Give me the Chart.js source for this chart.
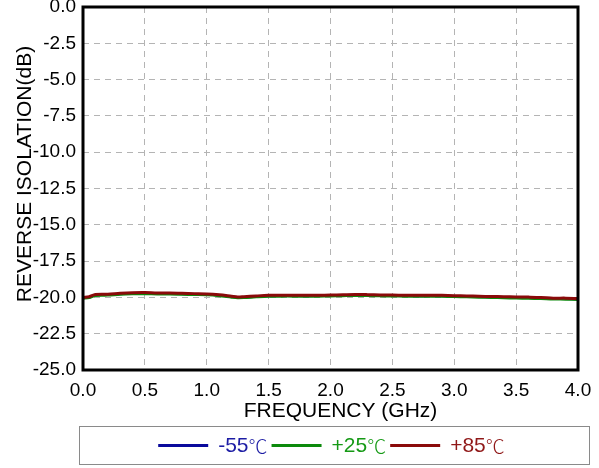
<!DOCTYPE html>
<html>
<head>
<meta charset="utf-8">
<script src="https://cdn.jsdelivr.net/npm/chart.js@4.4.0/dist/chart.umd.min.js"></script>
<style>
html,body{margin:0;padding:0;background:#fff;}
#wrap{width:599px;height:468px;position:relative;}
</style>
</head>
<body>
<div id="wrap"><canvas id="c" width="599" height="468"></canvas></div>
<script>
const freqGHz = [0, 0.05, 0.1, 0.2, 0.3, 0.4, 0.5, 0.6, 0.7, 0.8, 0.9, 1.0, 1.1, 1.2, 1.25, 1.3, 1.4, 1.5, 1.6, 1.7, 1.8, 1.9, 2.0, 2.1, 2.2, 2.3, 2.4, 2.5, 2.6, 2.7, 2.8, 2.9, 3.0, 3.1, 3.2, 3.3, 3.4, 3.5, 3.6, 3.7, 3.8, 3.9, 4.0];
const isoM55 = [-20.04, -19.99, -19.84, -19.82, -19.76, -19.72, -19.71, -19.74, -19.74, -19.76, -19.78, -19.8, -19.86, -19.96, -20.01, -19.99, -19.94, -19.9, -19.89, -19.89, -19.9, -19.89, -19.88, -19.86, -19.84, -19.85, -19.87, -19.88, -19.89, -19.9, -19.89, -19.9, -19.92, -19.94, -19.96, -19.98, -19.99, -20.01, -20.03, -20.05, -20.09, -20.1, -20.12];
const iso25 = [-20.08, -20.03, -19.88, -19.86, -19.8, -19.77, -19.76, -19.78, -19.78, -19.8, -19.82, -19.84, -19.9, -20.0, -20.04, -20.03, -19.98, -19.94, -19.93, -19.93, -19.94, -19.93, -19.92, -19.9, -19.88, -19.89, -19.91, -19.92, -19.93, -19.94, -19.93, -19.94, -19.96, -19.98, -20.0, -20.02, -20.04, -20.06, -20.08, -20.1, -20.13, -20.14, -20.16];
const iso85 = [-20.0, -19.95, -19.8, -19.78, -19.72, -19.68, -19.67, -19.7, -19.7, -19.72, -19.74, -19.76, -19.82, -19.92, -19.97, -19.95, -19.9, -19.86, -19.85, -19.85, -19.86, -19.85, -19.84, -19.82, -19.8, -19.81, -19.83, -19.84, -19.85, -19.86, -19.85, -19.86, -19.88, -19.9, -19.92, -19.94, -19.95, -19.97, -19.98, -20.0, -20.05, -20.05, -20.08];
const seriesLabels = ['-55', '+25', '+85'];
const xTicks = [0, 0.5, 1.0, 1.5, 2.0, 2.5, 3.0, 3.5, 4.0];
const yTicks = [0, -2.5, -5, -7.5, -10, -12.5, -15, -17.5, -20, -22.5, -25];
const xTitle = 'FREQUENCY (GHz)';
const yTitle = 'REVERSE ISOLATION(dB)';

const lineColors = ['#0a0a9c', '#0c8a0c', '#8a0a0a'];
const textColors = ['#1c1ca4', '#169a16', '#901818'];
const FONT = '"Liberation Sans", Arial, sans-serif';

function pts(ys){ return freqGHz.map((f,i)=>({x:f,y:ys[i]})); }

const frameAndLegend = {
  id: 'frameAndLegend',
  afterDatasetsDraw(chart){
    const {ctx, chartArea:a} = chart;
    ctx.save();
    ctx.strokeStyle = '#000';
    ctx.lineWidth = 3;
    ctx.strokeRect(a.left, a.top, a.right - a.left, a.bottom - a.top);
    ctx.restore();
  },
  afterDraw(chart){
    const ctx = chart.ctx;
    ctx.save();
    // axis titles
    ctx.fillStyle = '#000';
    ctx.font = '21px ' + FONT;
    ctx.textAlign = 'center';
    ctx.textBaseline = 'alphabetic';
    ctx.fillText(xTitle, 340.5, 417);
    ctx.save();
    ctx.translate(31, 174);
    ctx.rotate(-Math.PI/2);
    ctx.fillText(yTitle, 0, 0);
    ctx.restore();
    ctx.textAlign = 'left';
    // legend
    const bx = 79.5, by = 426.5, bw = 510, bh = 38;
    ctx.strokeStyle = '#8a8a8a';
    ctx.lineWidth = 1;
    ctx.strokeRect(bx, by, bw, bh);
    const numFont = '21px ' + FONT;
    const degFont = '300 19px "Noto Sans CJK SC", "DejaVu Sans", sans-serif';
    const lineLen = 50, gap1 = 10, gap2 = 4;
    const ds = chart.data.datasets;
    const items = ds.map((d,i)=>{
      ctx.font = numFont; const w1 = ctx.measureText(seriesLabels[i]).width;
      ctx.font = degFont; const w2 = ctx.measureText('℃').width;
      return {w1, w2};
    });
    let total = 0;
    items.forEach((it,i)=>{ total += lineLen + gap1 + it.w1 + it.w2 + (i < items.length-1 ? gap2 : 0); });
    let x = bx + bw/2 - total/2 - 3;
    const cy = by + bh/2;
    ctx.textBaseline = 'middle';
    ds.forEach((d,i)=>{
      ctx.strokeStyle = d.borderColor;
      ctx.lineWidth = 3;
      ctx.beginPath(); ctx.moveTo(x, cy); ctx.lineTo(x+lineLen, cy); ctx.stroke();
      x += lineLen + gap1;
      ctx.fillStyle = textColors[i];
      ctx.font = numFont; ctx.fillText(seriesLabels[i], x, cy+1);
      x += items[i].w1;
      ctx.font = degFont; ctx.fillText('℃', x, cy+1);
      x += items[i].w2 + gap2;
    });
    ctx.restore();
  }
};

new Chart(document.getElementById('c'), {
  type: 'line',
  data: {
    datasets: [
      {label: seriesLabels[0] + '℃', data: pts(isoM55), borderColor: lineColors[0], borderWidth: 2.5, pointRadius: 0, tension: 0.3, order: 3},
      {label: seriesLabels[1] + '℃', data: pts(iso25), borderColor: lineColors[1], borderWidth: 2.5, pointRadius: 0, tension: 0.3, order: 2},
      {label: seriesLabels[2] + '℃', data: pts(iso85), borderColor: lineColors[2], borderWidth: 3, pointRadius: 0, tension: 0.3, order: 1}
    ]
  },
  options: {
    responsive: false,
    animation: false,
    layout: {padding: {left: 0, right: 21, top: 7, bottom: 48}},
    plugins: {legend: {display: false}, tooltip: {enabled: false}},
    scales: {
      x: {
        type: 'linear', min: 0, max: 4,
        afterBuildTicks(s){ s.ticks = xTicks.map(v=>({value:v})); },
        afterFit(s){ s.height = 50; s.paddingLeft = 0; s.paddingRight = 0; },
        ticks: {callback: v => v.toFixed(1), color: '#000', font: {family: FONT, size: 19}, padding: 9, maxRotation: 0},
        grid: {color: '#b4b4b4', lineWidth: 1, drawTicks: false},
        border: {display: false, dash: [6,5]},
        title: {display: false}
      },
      y: {
        type: 'linear', min: -25, max: 0,
        afterBuildTicks(s){ s.ticks = yTicks.map(v=>({value:v})); },
        afterFit(s){ s.width = 83; s.paddingTop = 0; s.paddingBottom = 0; },
        ticks: {callback: v => v.toFixed(1), color: '#000', font: {family: FONT, size: 19}, padding: 7},
        grid: {color: '#b4b4b4', lineWidth: 1, drawTicks: false},
        border: {display: false, dash: [6,5]},
        title: {display: false}
      }
    }
  },
  plugins: [frameAndLegend]
});
</script>
</body>
</html>
